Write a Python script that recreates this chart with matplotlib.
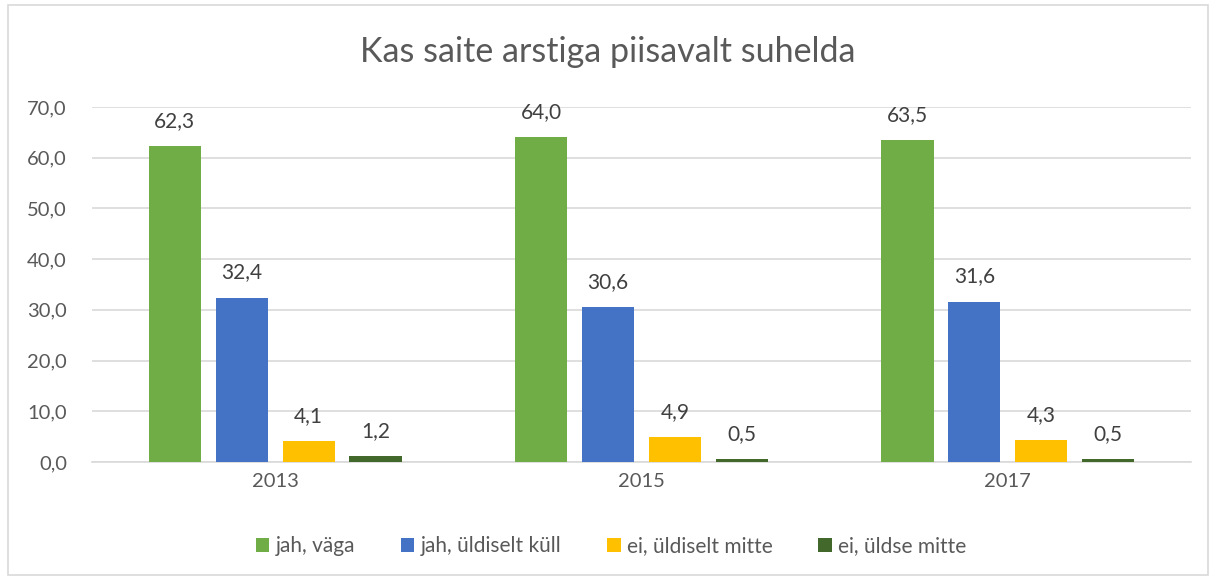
import matplotlib
matplotlib.use("Agg")
import matplotlib.pyplot as plt
import numpy as np
from matplotlib.patches import Rectangle

plt.rcParams['font.family'] = ['Lato', 'DejaVu Sans']

years = ["2013", "2015", "2017"]
series_names = ["jah, väga", "jah, üldiselt küll", "ei, üldiselt mitte", "ei, üldse mitte"]
jah_vaga = [62.3, 64.0, 63.5]
jah_uldiselt = [32.4, 30.6, 31.6]
ei_uldiselt = [4.1, 4.9, 4.3]
ei_uldse = [1.2, 0.5, 0.5]
colors = ["#70AD47", "#4472C4", "#FFC000", "#43682B"]

series = [jah_vaga, jah_uldiselt, ei_uldiselt, ei_uldse]

fig = plt.figure(figsize=(12.10, 5.77), dpi=100)
ax = fig.add_axes([92/1210, 1 - 462/577, (1191-92)/1210, (462-107)/577])

x = np.arange(len(years))
step = 0.1826
width = 0.142
txtc = "#404040"
for i, (vals, c, name) in enumerate(zip(series, colors, series_names)):
    pos = x + (i - 1.5) * step
    bars = ax.bar(pos, vals, width, color=c, label=name, zorder=3)
    for p, v in zip(pos, vals):
        ax.text(p, v + 3.0, f"{v:.1f}".replace(".", ","), ha="center", va="bottom",
                fontsize=15, color=txtc)

ax.set_xlim(-0.5, 2.5)
ax.set_ylim(0, 70)
ax.set_yticks(np.arange(0, 71, 10))
ax.set_yticklabels([f"{v:.1f}".replace(".", ",") for v in np.arange(0, 71, 10)],
                   fontsize=14.5, color="#595959")
ax.set_xticks(x)
ax.set_xticklabels(years, fontsize=14.5, color="#595959")
ax.tick_params(axis="both", length=0)
ax.tick_params(axis="y", pad=18)
ax.tick_params(axis="x", pad=8)
ax.grid(axis="y", color="#D9D9D9", linewidth=1.2, zorder=0)
for s in ["top", "right", "left"]:
    ax.spines[s].set_visible(False)
ax.spines["bottom"].set_color("#D9D9D9")
ax.spines["bottom"].set_linewidth(1.2)

fig.text(0.5 + 3/1210, 1 - 52/577, "Kas saite arstiga piisavalt suhelda", ha="center", va="center",
         fontsize=24.5, color="#595959")

leg = fig.legend(loc="center", bbox_to_anchor=(0.5 + 6/1210, 1 - 546/577), ncol=4, frameon=False,
                 fontsize=15, handlelength=0.65, handleheight=0.65, handletextpad=0.3,
                 columnspacing=2.2, labelcolor="#595959")

fig.patches.append(Rectangle((8/1210, 2/577), 1200/1210, 570/577, transform=fig.transFigure,
                             fill=False, edgecolor="#D9D9D9", linewidth=1.2))

fig.savefig("out.png", dpi=100, facecolor="white")
